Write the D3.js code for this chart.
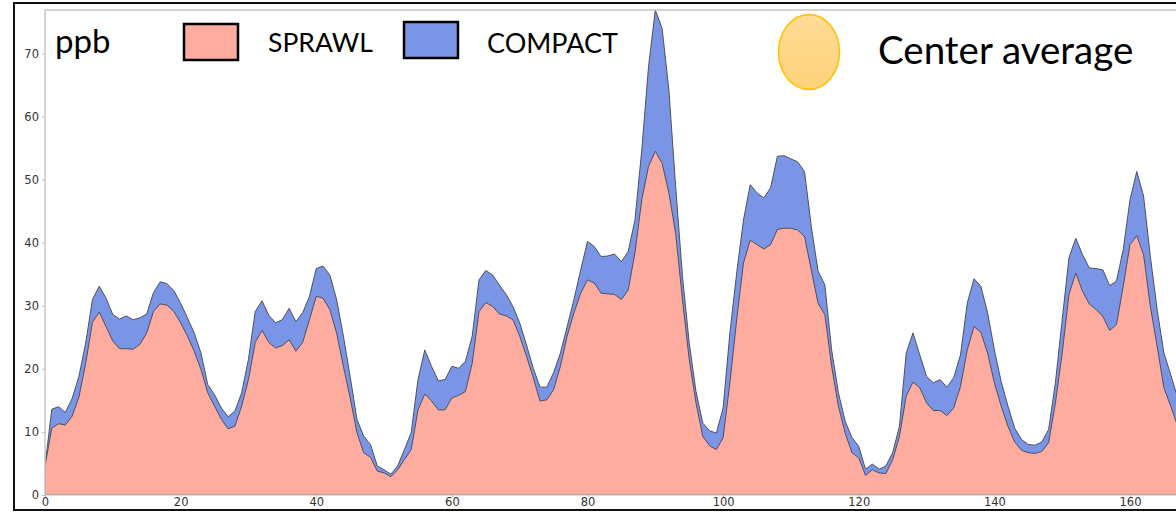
<!DOCTYPE html>
<html>
<head>
<meta charset="utf-8">
<script src="https://cdn.jsdelivr.net/npm/d3@7"></script>
<style>
  html, body { margin: 0; padding: 0; background: #fff; }
  svg { display: block; }
</style>
</head>
<body>
<svg id="chart" width="1176" height="512"></svg>
<script>
// ---- data ----
const hours = d3.range(0, 168);
const sprawl = [
  4.6,10.6,11.3,11.1,12.5,15.5,20.9,27.4,29.0,26.7,
  24.4,23.2,23.2,23.1,23.9,25.7,29.1,30.3,30.1,29.1,
  27.3,25.2,22.8,19.9,16.2,14.1,12.0,10.5,10.9,14.1,
  18.3,24.2,26.1,24.2,23.3,23.7,24.6,22.8,24.2,27.8,
  31.5,31.2,29.4,25.7,20.4,15.4,9.9,6.7,6.0,3.8,
  3.5,2.9,4.0,5.6,7.2,13.5,16.0,14.9,13.5,13.5,
  15.4,15.8,16.4,20.9,29.1,30.5,29.9,28.7,28.4,27.8,
  25.2,22.0,18.6,14.9,15.1,16.7,20.4,25.2,28.9,32.0,
  34.1,33.6,32.0,31.9,31.8,31.0,32.5,38.4,46.8,52.1,
  54.5,52.6,47.9,41.5,31.0,21.5,14.6,9.3,7.8,7.2,
  9.1,17.8,27.8,36.8,40.4,39.7,39.0,39.7,42.1,42.3,
  42.3,42.0,41.0,35.7,30.4,28.6,20.4,14.1,9.8,6.7,
  5.9,3.1,4.0,3.5,3.4,5.6,9.3,15.7,17.9,17.0,
  14.6,13.4,13.4,12.6,13.8,17.2,23.0,26.7,25.8,22.5,
  17.8,14.1,10.9,8.4,7.1,6.7,6.6,6.9,8.3,14.6,
  22.5,31.8,35.2,32.3,30.3,29.4,28.3,26.1,27.0,33.1,
  39.7,41.1,38.1,29.9,23.6,17.0,14.1,11.0
];
const compact = [
  4.6,13.6,14.0,13.1,15.3,18.8,24.1,31.0,33.1,31.2,
  28.6,27.9,28.4,27.8,28.1,28.7,32.1,33.8,33.5,32.4,
  30.4,28.1,25.7,22.5,17.5,15.9,13.8,12.4,13.3,16.2,
  21.5,29.1,30.8,28.5,27.3,27.8,29.6,27.5,28.9,31.5,
  35.9,36.3,34.9,31.0,25.2,18.8,12.0,9.3,8.0,4.6,
  4.0,3.3,4.6,7.2,9.9,18.3,23.0,20.4,18.1,18.3,
  20.4,20.1,21.2,25.2,34.1,35.6,34.9,33.3,31.8,29.9,
  27.3,23.8,20.1,17.1,17.1,19.4,22.5,26.7,31.0,35.7,
  40.2,39.4,37.8,37.9,38.2,37.0,38.6,43.6,54.7,67.9,
  76.9,74.0,64.2,48.9,34.7,24.1,16.4,11.4,10.2,9.8,
  13.8,25.7,35.2,43.6,49.2,47.9,47.1,48.7,53.7,53.8,
  53.3,52.8,51.3,42.6,35.5,33.3,23.0,16.2,11.7,9.1,
  7.7,4.1,4.9,4.1,4.6,6.7,10.9,22.5,25.7,22.2,
  18.8,17.8,18.3,17.1,18.6,22.2,30.4,34.3,33.1,28.9,
  23.0,18.0,14.1,10.6,8.8,8.0,7.9,8.4,10.4,17.8,
  27.8,37.6,40.7,38.1,36.0,35.9,35.7,33.2,33.9,38.9,
  46.8,51.3,47.4,37.8,29.4,22.5,19.1,15.5
];
const yTicks = [0, 10, 20, 30, 40, 50, 60, 70];
const xTicks = [0, 20, 40, 60, 80, 100, 120, 140, 160];
const seriesNames = ["SPRAWL", "COMPACT"];
const unitLabel = "ppb";
const centerLabel = "Center average";

// ---- drawing ----
const svg = d3.select("#chart");
const W = 1176, H = 512;
const plot = { left: 45, top: 10, right: 1180, bottom: 495 };

const x = d3.scaleLinear().domain([0, 160]).range([45, 1130]);
const y = d3.scaleLinear().domain([0, 70]).range([495, 53.5]);

const colSprawl = "#fdac9f";
const colCompact = "#7a95e6";
const edge = "#4d5060";

// outer frame
svg.append("rect")
  .attr("x", 14).attr("y", 3)
  .attr("width", W + 20).attr("height", 507)
  .attr("fill", "none").attr("stroke", "#111").attr("stroke-width", 2);

const defs = svg.append("defs");
defs.append("clipPath").attr("id", "clip")
  .append("rect")
  .attr("x", plot.left).attr("y", plot.top)
  .attr("width", plot.right - plot.left).attr("height", plot.bottom - plot.top);

const grad = defs.append("linearGradient").attr("id", "sun")
  .attr("x1", 0).attr("y1", 0).attr("x2", 0).attr("y2", 1);
grad.append("stop").attr("offset", "0%").attr("stop-color", "#ffdb95");
grad.append("stop").attr("offset", "100%").attr("stop-color", "#ffd27a");

const g = svg.append("g").attr("clip-path", "url(#clip)");

const area = d3.area()
  .x((d, i) => x(hours[i]))
  .y0(y(0))
  .y1(d => y(d));

g.append("path")
  .datum(compact)
  .attr("d", area)
  .attr("fill", colCompact)
  .attr("stroke", edge).attr("stroke-width", 1).attr("stroke-linejoin", "round");

g.append("path")
  .datum(sprawl)
  .attr("d", area)
  .attr("fill", colSprawl)
  .attr("stroke", edge).attr("stroke-width", 1).attr("stroke-linejoin", "round");

// spines
const spine = "#c4c4c4";
svg.append("line").attr("x1", plot.left).attr("x2", plot.left)
  .attr("y1", plot.top).attr("y2", plot.bottom)
  .attr("stroke", spine).attr("stroke-width", 1.5);
svg.append("line").attr("x1", plot.left).attr("x2", W)
  .attr("y1", plot.top).attr("y2", plot.top)
  .attr("stroke", spine).attr("stroke-width", 1.5);
svg.append("line").attr("x1", plot.left).attr("x2", W)
  .attr("y1", plot.bottom).attr("y2", plot.bottom)
  .attr("stroke", spine).attr("stroke-width", 1);

// axes
const yAxis = d3.axisLeft(y).tickValues(yTicks).tickSize(3).tickPadding(3);
const xAxis = d3.axisBottom(x).tickValues(xTicks).tickSize(2).tickPadding(1);

const ya = svg.append("g").attr("transform", `translate(${plot.left},0)`).call(yAxis);
const xa = svg.append("g").attr("transform", `translate(0,${plot.bottom})`).call(xAxis);
[ya, xa].forEach(a => {
  a.select(".domain").remove();
  a.selectAll(".tick line").attr("stroke", "#bbb");
  a.selectAll(".tick text")
    .attr("fill", "#333")
    .style("font-family", "DejaVu Sans, sans-serif")
    .style("font-size", "11.5px");
});

// legend / annotations
const legendFont = "Lato, 'Open Sans', sans-serif";
svg.append("text").attr("x", 55).attr("y", 53)
  .text(unitLabel)
  .style("font-family", legendFont).style("font-size", "33px").attr("fill", "#000");

const legend = [
  { name: seriesNames[0], color: colSprawl, rx: 184, ry: 24, tx: 268, ty: 52, fs: 26.5 },
  { name: seriesNames[1], color: colCompact, rx: 404, ry: 22, tx: 487, ty: 53, fs: 27 }
];
legend.forEach(l => {
  svg.append("rect").attr("x", l.rx).attr("y", l.ry)
    .attr("width", 54).attr("height", 36)
    .attr("fill", l.color).attr("stroke", "#000").attr("stroke-width", 2.5);
  svg.append("text").attr("x", l.tx).attr("y", l.ty).text(l.name)
    .style("font-family", legendFont).style("font-size", l.fs + "px").attr("fill", "#000");
});

svg.append("ellipse").attr("cx", 809).attr("cy", 52).attr("rx", 30.5).attr("ry", 37.5)
  .attr("fill", "url(#sun)").attr("stroke", "#ffc000").attr("stroke-width", 1.5);
svg.append("text").attr("x", 878).attr("y", 64).text(centerLabel)
  .style("font-family", legendFont).style("font-size", "38.5px").attr("fill", "#000");
</script>
</body>
</html>
